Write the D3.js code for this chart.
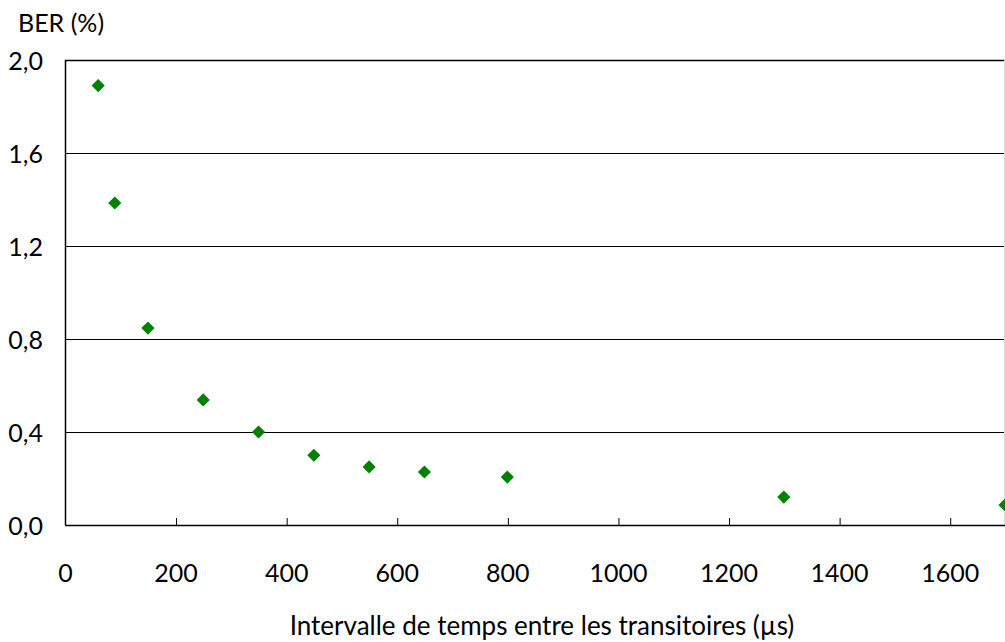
<!DOCTYPE html>
<html><head><meta charset="utf-8">
<script src="https://cdn.jsdelivr.net/npm/d3@7"></script>
<style>body{margin:0;background:#fff;} text{font-family:Lato,"Open Sans",sans-serif;}</style>
</head><body>
<svg id="c" width="1005" height="642"></svg>
<script>
const xValues = [60, 90, 150, 250, 350, 450, 550, 650, 800, 1300, 1700];
const berValues = [1.89, 1.385, 0.847, 0.538, 0.40, 0.30, 0.25, 0.228, 0.206, 0.12, 0.086];
const xTicks = [0, 200, 400, 600, 800, 1000, 1200, 1400, 1600];
const yTicks = [0, 0.4, 0.8, 1.2, 1.6, 2.0];
const yTitle = "BER (%)";
const xTitle = "Intervalle de temps entre les transitoires (µs)";

const svg = d3.select("#c");
const L = 65, R = 1005, T = 60, B = 525;
const x = d3.scaleLinear().domain([0, 1700]).range([L, R]);
const y = d3.scaleLinear().domain([0, 2]).range([B, T]);
const fmt = d => d.toFixed(1).replace(".", ",");
const FF = "Lato, 'Open Sans', sans-serif";

// gridlines
svg.append("g").selectAll("line").data(yTicks.filter(d => d > 0)).join("line")
  .attr("x1", L).attr("x2", R).attr("y1", d => y(d) + 0.5).attr("y2", d => y(d) + 0.5)
  .attr("stroke", "#000").attr("stroke-width", d => d === 2 ? 1.5 : 1);
svg.append("line").attr("x1", R - 0.5).attr("x2", R - 0.5).attr("y1", T).attr("y2", B)
  .attr("stroke", "#ddd");

// x axis
const xa = svg.append("g").attr("transform", `translate(0,${B})`)
  .call(d3.axisBottom(x).tickValues(xTicks).tickSize(-7).tickFormat(d => d));
xa.select(".domain").remove();
xa.selectAll("line").attr("stroke", "#000").attr("x1", 0.5).attr("x2", 0.5);
xa.selectAll(".tick").filter(d => d === 0).select("line").remove();
xa.selectAll("text").attr("y", 57).attr("dy", 0).attr("font-size", 25).attr("fill", "#000").attr("font-family", FF);
svg.append("line").attr("x1", L).attr("x2", R).attr("y1", B + 0.5).attr("y2", B + 0.5)
  .attr("stroke", "#000").attr("stroke-width", 1.5);

// y axis
const ya = svg.append("g").attr("transform", `translate(${L},0)`)
  .call(d3.axisLeft(y).tickValues(yTicks).tickSize(0).tickPadding(22).tickFormat(fmt));
ya.select(".domain").remove();
ya.selectAll("text").attr("font-size", 25).attr("fill", "#000").attr("font-family", FF).attr("dy", "0.36em");
svg.append("line").attr("x1", L + 0.5).attr("x2", L + 0.5).attr("y1", T).attr("y2", B)
  .attr("stroke", "#000").attr("stroke-width", 1.5);

// titles
svg.append("text").attr("x", 18).attr("y", 32).attr("font-size", 25).text(yTitle);
svg.append("text").attr("x", 542).attr("y", 635).attr("text-anchor", "middle").attr("font-size", 26).text(xTitle);

// points
svg.append("clipPath").attr("id", "cp").append("rect")
  .attr("x", 0).attr("y", 0).attr("width", R).attr("height", 642);
svg.append("g").attr("clip-path", "url(#cp)").selectAll("path").data(xValues).join("path")
  .attr("d", d3.symbol(d3.symbolDiamond2, 110)())
  .attr("transform", (d, i) => `translate(${x(d)},${y(berValues[i])})`)
  .attr("fill", "#008000");
</script>
</body></html>
